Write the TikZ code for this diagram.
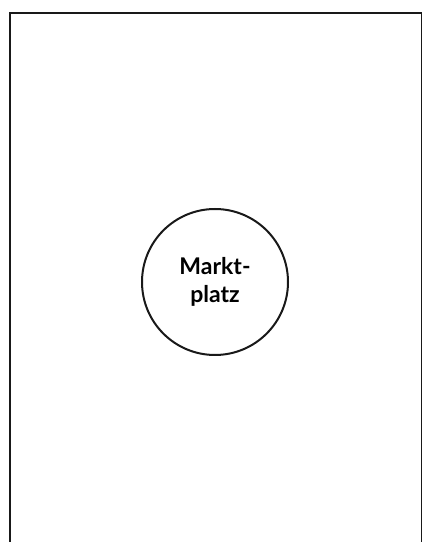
\documentclass[tikz,border=0pt]{standalone}
\usepackage{fontspec}
\setmainfont{Lato}
\begin{document}
\begin{tikzpicture}[x=1pt,y=1pt,
  frame/.style={line width=2pt,draw=black!90},
  place/.style={circle,draw=black!90,line width=2pt,minimum size=146pt,inner sep=0pt,
    align=center,font=\fontsize{23}{28}\selectfont\bfseries}]
\useasboundingbox (0,0) rectangle (422,542);
\coordinate (bl) at (9.5,-5);
\coordinate (tl) at (9.5,528.5);
\coordinate (tr) at (421.8,528.5);
\coordinate (br) at (421.8,-5);
\draw[frame] (bl) -- (tl) -- (tr) -- (br);
\node[place] (markt) at (215,260) {Markt-\\platz};
\end{tikzpicture}
\end{document}
